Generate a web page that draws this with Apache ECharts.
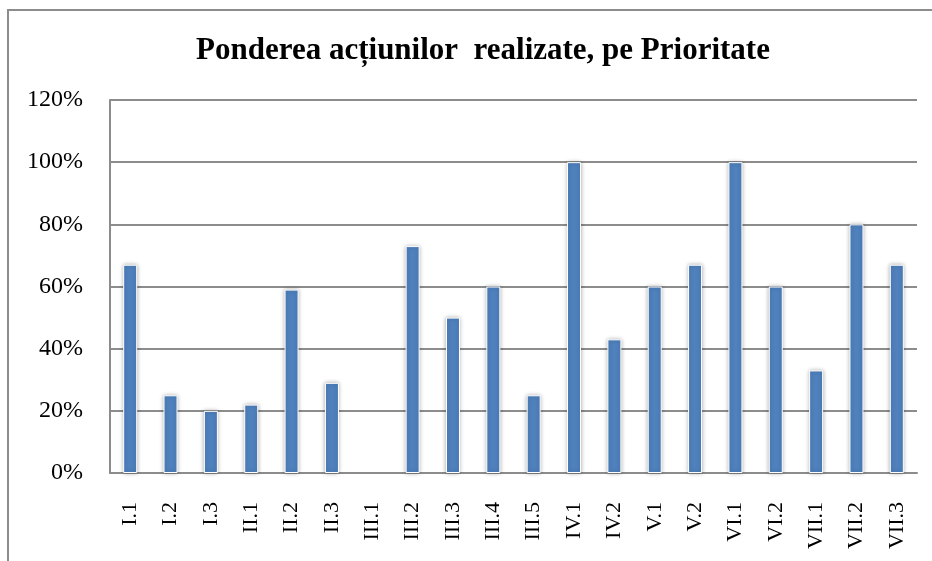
<!DOCTYPE html>
<html>
<head>
<meta charset="utf-8">
<script src="https://cdn.jsdelivr.net/npm/echarts@6/dist/echarts.min.js"></script>
<style>html,body{margin:0;padding:0;background:#fff}#c{width:932px;height:561px}</style>
</head>
<body>
<div id="c"></div>
<script>
const titleText = 'Ponderea acțiunilor  realizate, pe Prioritate';
const categories = ['I.1','I.2','I.3','II.1','II.2','II.3','III.1','III.2','III.3','III.4','III.5','IV.1','IV.2','V.1','V.2','VI.1','VI.2','VII.1','VII.2','VII.3'];
const values = [0.67,0.25,0.20,0.22,0.59,0.29,0,0.73,0.50,0.60,0.25,1.00,0.43,0.60,0.67,1.00,0.60,0.33,0.80,0.67];
const yTicks = [0,0.2,0.4,0.6,0.8,1.0,1.2];

const chart = echarts.init(document.getElementById('c'), null, {renderer:'canvas'});
const serif = '"Liberation Serif","Times New Roman",serif';
chart.setOption({
  animation:false,
  backgroundColor:'#fff',
  graphic:[{type:'rect',shape:{x:8,y:10,width:940,height:570},style:{fill:'none',stroke:'#8c8c8c',lineWidth:2},z:-1}],
  title:{text:titleText,left:478,textAlign:'center',top:30,textStyle:{fontFamily:serif,fontWeight:'bold',fontSize:31,color:'#000'}},
  grid:{left:110,right:15,top:100,bottom:88},
  xAxis:{type:'category',data:categories,
    axisLine:{lineStyle:{color:'#8c8c8c',width:2}},
    axisTick:{show:false},
    axisLabel:{rotate:90,margin:29,fontFamily:serif,fontSize:22,color:'#000',interval:0}},
  yAxis:{type:'value',min:yTicks[0],max:yTicks[yTicks.length-1],interval:0.2,
    axisLine:{show:true,lineStyle:{color:'#8c8c8c',width:2}},
    axisTick:{show:false},
    splitLine:{lineStyle:{color:'#8c8c8c',width:2}},
    axisLabel:{margin:27,fontFamily:serif,fontSize:24,color:'#000',formatter:v=>Math.round(v*100)+'%'}},
  series:[{type:'bar',barWidth:14,
    data:values.map(v => v > 0 ? v : {value:v,itemStyle:{borderWidth:0,shadowBlur:0,opacity:0}}),
    itemStyle:{color:'#4f81bd',borderColor:'#fff',borderWidth:1,shadowColor:'rgba(0,0,0,0.3)',shadowBlur:4,shadowOffsetX:0}}]
});
</script>
</body>
</html>
